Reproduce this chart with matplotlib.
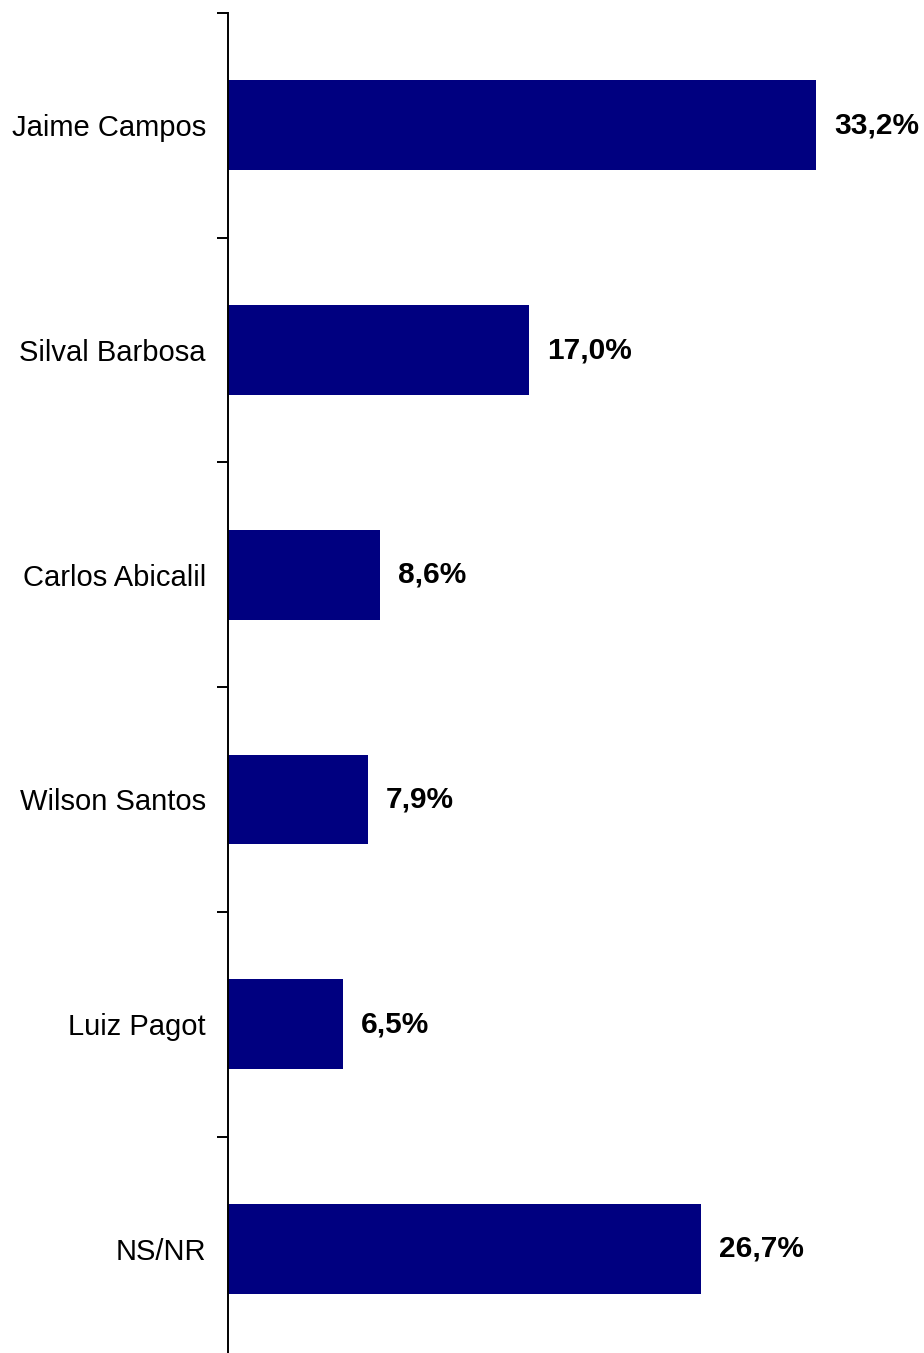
import matplotlib.pyplot as plt
import numpy as np

names = ['Jaime Campos', 'Silval Barbosa', 'Carlos Abicalil',
         'Wilson Santos', 'Luiz Pagot', 'NS/NR']
values = [33.2, 17.0, 8.6, 7.9, 6.5, 26.7]
labels = ['33,2%', '17,0%', '8,6%', '7,9%', '6,5%', '26,7%']

plt.rcParams['font.family'] = ['Liberation Sans', 'DejaVu Sans']

fig = plt.figure(figsize=(9.24, 13.53), dpi=100)
# axes: left edge at x=228px, top at y=13px, 6 rows of ~224.7px
ax = fig.add_axes([228/924, 1 - (13 + 6*224.7)/1353, 696/924, 6*224.7/1353])

y = np.arange(len(names))
ax.barh(y, values, height=0.4, color='#000080')
ax.set_ylim(len(names) - 0.5, -0.5)
ax.set_xlim(0, 39.3)

for yi, v, lab in zip(y, values, labels):
    ax.annotate(lab, (v, yi), xytext=(13, 0), textcoords='offset points',
                ha='left', va='center', fontsize=21.5, fontweight='bold')

for sp in ['top', 'right', 'bottom']:
    ax.spines[sp].set_visible(False)
ax.spines['left'].set_linewidth(1.4)

ax.set_xticks([])
ax.set_yticks(np.arange(len(names) + 1) - 0.5, minor=True)
ax.set_yticks(y)
ax.set_yticklabels(names, fontsize=21)
ax.tick_params(axis='y', which='major', length=0, pad=16)
ax.tick_params(axis='y', which='minor', length=8, width=1.4)

fig.savefig('out.png', dpi=100)
